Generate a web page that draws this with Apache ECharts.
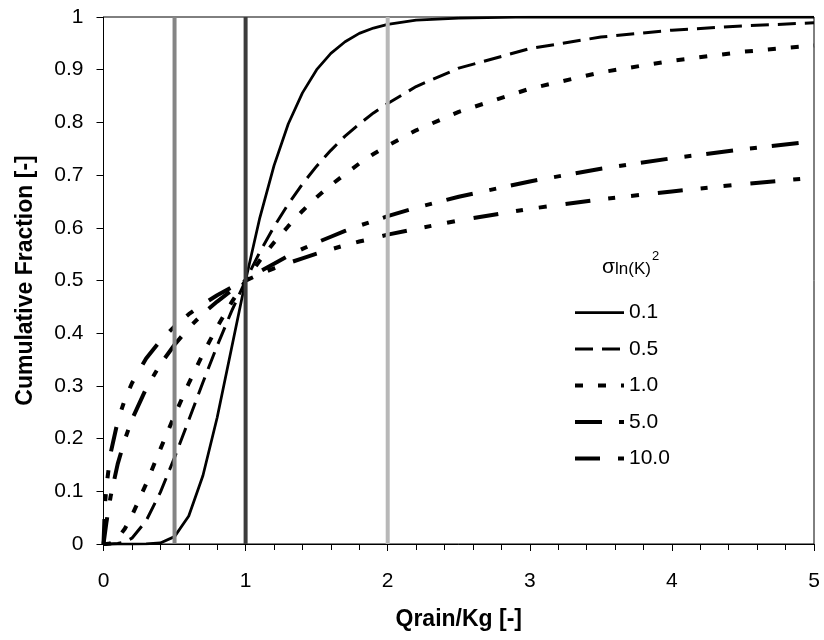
<!DOCTYPE html>
<html>
<head>
<meta charset="utf-8">
<title>Cumulative Fraction vs Qrain/Kg</title>
<script src="https://cdn.jsdelivr.net/npm/echarts@6/dist/echarts.min.js"></script>
<style>
  html, body { margin: 0; padding: 0; background: #fff; }
  #chart { width: 824px; height: 640px; }
</style>
</head>
<body>
<div id="chart"></div>
<script>
// Qrain/Kg sample points shared by all curves
const qrain = [0, 0.01, 0.02, 0.05, 0.1, 0.15, 0.2, 0.3, 0.4, 0.5, 0.6, 0.7, 0.8, 0.9, 1.0,
  1.1, 1.2, 1.3, 1.4, 1.5, 1.6, 1.7, 1.8, 1.9, 2.0, 2.2, 2.5, 3.0, 3.5, 4.0, 4.5, 5.0];

// Cumulative fraction for each variance of ln(K)
const frac01 = [0, 0, 0, 0, 0, 0, 0, 0.0001, 0.002, 0.014, 0.053, 0.130, 0.240, 0.370, 0.5,
  0.619, 0.718, 0.797, 0.856, 0.900, 0.931, 0.953, 0.969, 0.979, 0.986, 0.994, 0.998, 1.0, 1.0, 1.0, 1.0, 1.0];
const frac05 = [0, 0, 0, 0, 0.001, 0.004, 0.011, 0.044, 0.098, 0.164, 0.235, 0.307, 0.376, 0.441, 0.5,
  0.554, 0.602, 0.645, 0.683, 0.717, 0.747, 0.774, 0.797, 0.818, 0.836, 0.868, 0.903, 0.940, 0.962, 0.975, 0.983, 0.989];
const frac10 = [0, 0, 0, 0.001, 0.011, 0.029, 0.054, 0.114, 0.180, 0.244, 0.305, 0.361, 0.412, 0.458, 0.5,
  0.538, 0.572, 0.603, 0.632, 0.658, 0.681, 0.702, 0.722, 0.740, 0.756, 0.785, 0.820, 0.864, 0.895, 0.917, 0.934, 0.946];
const frac50 = [0, 0.020, 0.040, 0.090, 0.152, 0.198, 0.236, 0.295, 0.341, 0.378, 0.410, 0.437, 0.460, 0.481, 0.5,
  0.517, 0.532, 0.547, 0.560, 0.572, 0.583, 0.594, 0.604, 0.613, 0.622, 0.638, 0.659, 0.688, 0.712, 0.732, 0.749, 0.764];
const frac100 = [0, 0.073, 0.108, 0.172, 0.233, 0.274, 0.305, 0.352, 0.386, 0.413, 0.436, 0.455, 0.472, 0.487, 0.5,
  0.512, 0.523, 0.533, 0.542, 0.551, 0.559, 0.567, 0.574, 0.580, 0.587, 0.598, 0.614, 0.636, 0.654, 0.669, 0.683, 0.695];

const varianceLabels = ['0.1', '0.5', '1.0', '5.0', '10.0'];
const curveValues = [frac01, frac05, frac10, frac50, frac100];

// Vertical reference lines at these Qrain/Kg values
const referenceQ = [0.5, 1, 2];

// Tick values
const xTicks = [0, 1, 2, 3, 4, 5];
const yTicks = [0, 0.1, 0.2, 0.3, 0.4, 0.5, 0.6, 0.7, 0.8, 0.9, 1];

// Line styles per curve
const curveStyles = [
  { width: 2.75, type: 'solid' },
  { width: 3, type: [18, 9] },
  { width: 4, type: [8, 15] },
  { width: 4, type: [27, 17, 7, 15] },
  { width: 4, type: [25, 18, 7, 16, 8, 19] }
];
const referenceColors = ['#858585', '#3c3c3c', '#b8b8b8'];

const FONT = "'Liberation Sans', Arial, sans-serif";

const series = [];
varianceLabels.forEach((name, i) => {
  series.push({
    name: name,
    type: 'line',
    data: qrain.map((q, k) => [q, curveValues[i][k]]),
    symbol: 'none',
    smooth: false,
    z: 3,
    itemStyle: { color: '#000' },
    lineStyle: {
      color: '#000',
      width: curveStyles[i].width,
      type: curveStyles[i].type,
      cap: 'butt'
    }
  });
});
referenceQ.forEach((q, i) => {
  series.push({
    name: 'ref' + q,
    type: 'line',
    data: [[q, yTicks[0]], [q, yTicks[yTicks.length - 1]]],
    symbol: 'none',
    z: 4,
    silent: true,
    lineStyle: { color: referenceColors[i], width: 4, cap: 'butt' }
  });
});

const chart = echarts.init(document.getElementById('chart'), null, { renderer: 'canvas' });
chart.setOption({
  animation: false,
  backgroundColor: '#fff',
  textStyle: { fontFamily: FONT },
  grid: {
    left: 103.5, right: 10, top: 17, bottom: 96,
    show: true, borderColor: '#000', borderWidth: 1, backgroundColor: 'transparent'
  },
  xAxis: {
    type: 'value',
    min: xTicks[0], max: xTicks[xTicks.length - 1], interval: 1,
    name: 'Qrain/Kg [-]',
    nameLocation: 'middle',
    nameGap: 64,
    nameTextStyle: { fontFamily: FONT, fontSize: 23, fontWeight: 'bold', color: '#000' },
    axisLine: { lineStyle: { color: '#000', width: 1 } },
    axisTick: { show: true, inside: false, length: 7, lineStyle: { color: '#000' } },
    minorTick: { show: true, splitNumber: 5, length: 6, lineStyle: { color: '#000' } },
    splitLine: { show: false },
    minorSplitLine: { show: false },
    axisLabel: { fontFamily: FONT, fontSize: 21, color: '#000', margin: 27 }
  },
  yAxis: {
    type: 'value',
    min: yTicks[0], max: yTicks[yTicks.length - 1], interval: 0.1,
    name: 'Cumulative Fraction [-]',
    nameLocation: 'middle',
    nameGap: 66,
    nameTextStyle: { fontFamily: FONT, fontSize: 23, fontWeight: 'bold', color: '#000' },
    axisLine: { show: true, lineStyle: { color: '#000', width: 1 } },
    axisTick: { show: true, inside: false, length: 7, lineStyle: { color: '#000' } },
    splitLine: { show: false },
    axisLabel: { fontFamily: FONT, fontSize: 21, color: '#000', margin: 20 }
  },
  legend: {
    data: varianceLabels,
    orient: 'vertical',
    left: 573,
    top: 302,
    padding: 0,
    itemWidth: 49,
    itemHeight: 20,
    itemGap: 15.5,
    itemStyle: { opacity: 0 },
    lineStyle: { width: 'inherit' },
    textStyle: { fontFamily: FONT, fontSize: 21, color: '#000' },
    selectedMode: false
  },
  graphic: [
    { type: 'text', left: 602, top: 257,
      style: { text: 'σ', font: "21px " + FONT, fill: '#000' } },
    { type: 'text', left: 615, top: 261,
      style: { text: 'ln(K)', font: "17px " + FONT, fill: '#000' } },
    { type: 'text', left: 652, top: 250,
      style: { text: '2', font: "13px " + FONT, fill: '#000' } }
  ],
  series: series
});
</script>
</body>
</html>
